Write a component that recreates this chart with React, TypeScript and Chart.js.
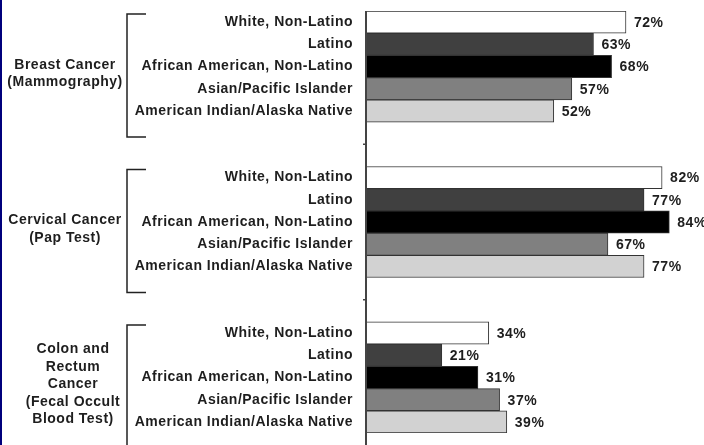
import React, { useEffect, useRef } from "react";
import { Chart, registerables } from "chart.js";

Chart.register(...registerables);

// ---------- data ----------
const ethnicities = [
  "White, Non-Latino",
  "Latino",
  "African American, Non-Latino",
  "Asian/Pacific Islander",
  "American Indian/Alaska Native",
];
const ethnicityColors = ["#ffffff", "#404040", "#000000", "#808080", "#d2d2d2"];

const screeningGroups = [
  ["Breast Cancer", "(Mammography)"],
  ["Cervical Cancer", "(Pap Test)"],
  ["Colon and", "Rectum", "Cancer", "(Fecal Occult", "Blood Test)"],
];
const breastValues = [72, 63, 68, 57, 52];
const cervicalValues = [82, 77, 84, 67, 77];
const colonValues = [34, 21, 31, 37, 39];
const groupValues = [breastValues, cervicalValues, colonValues];

const X_MIN = 0;
const X_MAX = 93.6;

// ---------- style ----------
const GAP_ROWS = 2;
const FONT_FAMILY = "'Liberation Sans', Arial, sans-serif";
const TEXT_COLOR = "#1e1e1e";
const GROUP_LABEL_X = [65, 65, 73];
const BRACKET_X = 127;
const BRACKET_ARM = 19;

// build rows (bars + spacer rows between groups)
const rowLabels: string[] = [];
const rowValues: (number | null)[] = [];
const rowColors: string[] = [];
const groupRanges: { start: number; end: number }[] = [];
groupValues.forEach((vals, g) => {
  const start = rowLabels.length;
  vals.forEach((v, i) => {
    rowLabels.push(ethnicities[i]);
    rowValues.push(v);
    rowColors.push(ethnicityColors[i]);
  });
  groupRanges.push({ start, end: rowLabels.length - 1 });
  if (g < groupValues.length - 1) {
    for (let k = 0; k < GAP_ROWS; k++) {
      rowLabels.push("");
      rowValues.push(null);
      rowColors.push("#ffffff");
    }
  }
});

const decorPlugin = {
  id: "decor",
  beforeDraw(chart: any) {
    const ctx = chart.ctx;
    ctx.save();
    ctx.fillStyle = "#ffffff";
    ctx.fillRect(0, 0, chart.width, chart.height);
    ctx.restore();
    (ctx as any).letterSpacing = "0.5px";
  },
  afterDraw(chart: any) {
    const ctx = chart.ctx as CanvasRenderingContext2D;
    const y = chart.scales.y;
    const area = chart.chartArea;
    const h = y.getPixelForValue(1) - y.getPixelForValue(0);
    ctx.save();
    (ctx as any).letterSpacing = "0.5px";

    // left navy border
    ctx.fillStyle = "#00007c";
    ctx.fillRect(0, 0, 2, chart.height);

    // axis line
    ctx.strokeStyle = "#444";
    ctx.lineWidth = 2;
    ctx.beginPath();
    ctx.moveTo(area.left, area.top);
    ctx.lineTo(area.left, chart.height);
    ctx.stroke();

    // boundary ticks
    ctx.lineWidth = 1.5;
    for (let g = 0; g < groupRanges.length - 1; g++) {
      const yy = (y.getPixelForValue(groupRanges[g].end) + y.getPixelForValue(groupRanges[g + 1].start)) / 2;
      ctx.beginPath();
      ctx.moveTo(area.left - 3, yy);
      ctx.lineTo(area.left, yy);
      ctx.stroke();
    }

    // brackets and group labels
    ctx.strokeStyle = "#222";
    ctx.lineWidth = 1.5;
    ctx.fillStyle = TEXT_COLOR;
    ctx.font = `bold 14px ${FONT_FAMILY}`;
    ctx.textAlign = "center";
    ctx.textBaseline = "middle";
    groupRanges.forEach((r, g) => {
      const top = y.getPixelForValue(r.start) - h / 2;
      const bottom = y.getPixelForValue(r.end) + h / 2;
      const bTop = top + 3;
      const bBot = bottom + 15;
      ctx.beginPath();
      ctx.moveTo(BRACKET_X + BRACKET_ARM, bTop);
      ctx.lineTo(BRACKET_X, bTop);
      ctx.lineTo(BRACKET_X, bBot);
      ctx.lineTo(BRACKET_X + BRACKET_ARM, bBot);
      ctx.stroke();

      const lines = screeningGroups[g];
      const cy = (top + bottom) / 2 + 7;
      const lh = 17.5;
      lines.forEach((t, k) => {
        ctx.fillText(t, GROUP_LABEL_X[g], cy + (k - (lines.length - 1) / 2) * lh);
      });
    });

    // value labels
    ctx.textAlign = "left";
    const meta = chart.getDatasetMeta(0);
    meta.data.forEach((bar: any, i: number) => {
      const v = rowValues[i];
      if (v == null) return;
      ctx.fillText(`${v}%`, bar.x + 8, bar.y + 1);
    });
    ctx.restore();
  },
};

export default function App() {
  const ref = useRef<HTMLCanvasElement | null>(null);
  useEffect(() => {
    document.body.style.margin = "0";
    const canvas = ref.current!;
    const chart = new Chart(canvas, {
      type: "bar",
      data: {
        labels: rowLabels,
        datasets: [
          {
            data: rowValues,
            backgroundColor: rowColors,
            borderColor: "#333",
            borderWidth: 1,
            barPercentage: 1,
            categoryPercentage: 1,
          },
        ],
      },
      options: {
        indexAxis: "y",
        responsive: false,
        animation: false,
        devicePixelRatio: 1,
        layout: { padding: { top: 11, bottom: 12, left: 0, right: 0 } },
        plugins: { legend: { display: false }, tooltip: { enabled: false } },
        scales: {
          x: { display: false, min: X_MIN, max: X_MAX },
          y: {
            type: "category",
            grid: { display: false, drawTicks: false },
            border: { display: false },
            ticks: {
              color: TEXT_COLOR,
              padding: 13,
              font: { family: FONT_FAMILY, size: 14, weight: "bold" },
              autoSkip: false,
            },
            afterFit: (s: any) => {
              s.width = 366;
              s.paddingTop = 0;
              s.paddingBottom = 0;
            },
          },
        },
      },
      plugins: [decorPlugin],
    } as any);
    return () => chart.destroy();
  }, []);
  return <canvas ref={ref} width={704} height={445} style={{ display: "block", width: 704, height: 445 }} />;
}
